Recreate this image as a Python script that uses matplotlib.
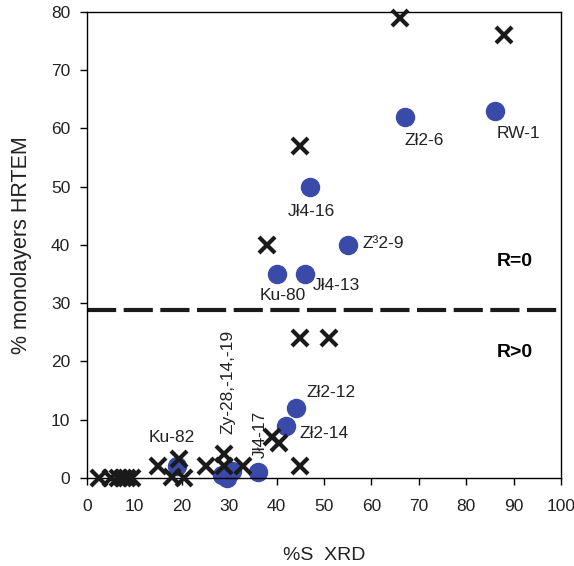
import matplotlib.pyplot as plt

plt.rcParams["font.family"] = ["Liberation Sans", "DejaVu Sans"]
plt.rcParams["font.size"] = 12.5

# HRTEM vs XRD, samples shown as blue dots
dot_x = [86, 67, 47, 55, 40, 46, 44, 42, 36, 28.5, 29.5, 30.5, 19]
dot_y = [63, 62, 50, 40, 35, 35, 12, 9, 1, 0.5, 0, 1.2, 2]

# other samples shown as crosses
cross_x = [66, 88, 45, 38, 45, 51, 39, 40.5, 45, 15, 19.5, 18, 20.5,
           25, 29, 29, 33, 2.5, 5, 6.5, 7.5, 8.5, 9.5]
cross_y = [79, 76, 57, 40, 24, 24, 7, 6, 2, 2, 3.2, 0.2, 0,
           2, 4.2, 2, 2, 0, 0, 0, 0, 0, 0]

labels = ["RW-1", "Zł2-6", "Jł4-16", "Z³2-9", "Ku-80", "Jł4-13",
          "Zł2-12", "Zł2-14", "Ku-82"]
label_x = [86.5, 66.9, 42.4, 58.2, 36.5, 47.7, 46.2, 44.9, 13.1]
label_y = [59.2, 57.9, 45.8, 40.3, 31.4, 33.1, 14.6, 7.7, 7.0]

boundary = 28.8

fig = plt.figure(figsize=(5.74, 5.66), dpi=100)
ax = fig.add_axes([0.1516, 0.1555, 0.8258, 0.8233])

ax.axhline(boundary, color="#1a1a1a", linewidth=3, dashes=(7, 1.8), zorder=1)
ax.plot(dot_x, dot_y, "o", color="#3a4aa8", markersize=13, linestyle="none",
        clip_on=False, zorder=2)
ax.plot(cross_x, cross_y, "x", color="#1a1a1a", markersize=11, mew=3,
        linestyle="none", clip_on=False, zorder=3)

for t, x, y in zip(labels, label_x, label_y):
    ax.text(x, y, t, ha="left", va="center", color="#222222")

ax.text(29.7, 7.5, "Zy-28,-14,-19", rotation=90, ha="center", va="bottom",
        color="#222222")
ax.text(36.5, 3.4, "Jł4-17", rotation=90, ha="center", va="bottom",
        color="#222222")

ax.text(90.3, 37.1, "R=0", ha="center", va="center", fontweight="bold", fontsize=14)
ax.text(90.3, 21.6, "R>0", ha="center", va="center", fontweight="bold", fontsize=14)

ax.set_xlim(0, 100)
ax.set_ylim(0, 80)
ax.set_xticks(range(0, 101, 10))
ax.set_yticks(range(0, 81, 10))
ax.tick_params(direction="out", length=5, width=1, labelsize=12.5,
               labelcolor="#222222")
ax.tick_params(axis="x", pad=10)
ax.tick_params(axis="y", pad=7)
for s in ax.spines.values():
    s.set_linewidth(1)

ax.set_xlabel("%S  XRD", fontsize=14, labelpad=24, color="#222222")
ax.set_ylabel("% monolayers HRTEM", fontsize=15.5, labelpad=14, color="#222222")

fig.savefig("out.png", dpi=100)
